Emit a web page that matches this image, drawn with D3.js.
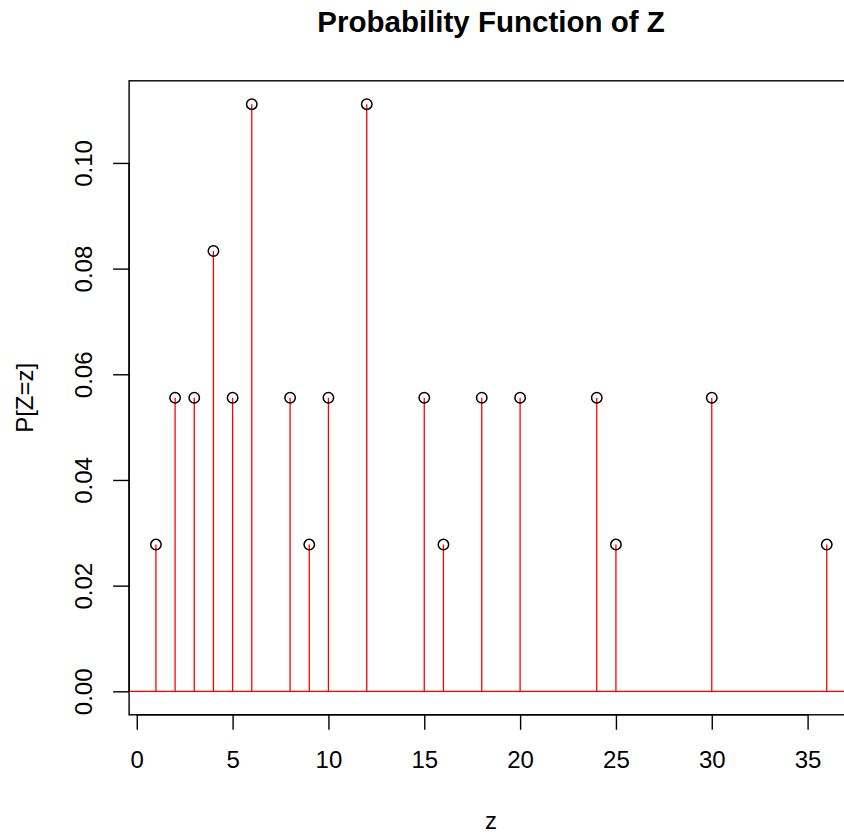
<!DOCTYPE html>
<html><head><meta charset="utf-8">
<script src="https://cdn.jsdelivr.net/npm/d3@7"></script>
<style>body{margin:0;background:#fff}svg{display:block;font-family:"Liberation Sans",Arial,sans-serif}</style>
</head><body><svg id="c" width="844" height="835"></svg>
<script>
const zValues = [1,2,3,4,5,6,8,9,10,12,15,16,18,20,24,25,30,36];
const counts = [1,2,2,3,2,4,2,1,2,4,2,1,2,2,2,1,2,1];
const probs = counts.map(c => c/36);
const xTicks = [0,5,10,15,20,25,30,35];
const yTicks = [0,0.02,0.04,0.06,0.08,0.10];
const title = "Probability Function of Z";
const xLabel = "z", yLabel = "P[Z=z]";

const svg = d3.select("#c");
const L = 129.1, R = 853.6, T = 80.8, B = 714.8;
const x = d3.scaleLinear().domain([-0.4, 37.4]).range([L, R]);
const y = d3.scaleLinear().domain([-0.1111*0.04, 0.1111*1.04]).range([B, T]);
const FONT = "Liberation Sans, Arial, sans-serif";

// stems
svg.append("g").selectAll("line").data(zValues).join("line")
  .attr("x1", d => x(d)).attr("x2", d => x(d))
  .attr("y1", y(0)).attr("y2", (d,i) => y(probs[i]))
  .attr("stroke", "#ff0000").attr("stroke-width", 1.3);
// zero line
svg.append("line").attr("x1", L).attr("x2", R).attr("y1", y(0)).attr("y2", y(0))
  .attr("stroke", "#ff0000").attr("stroke-width", 1.3);
// points
svg.append("g").selectAll("circle").data(zValues).join("circle")
  .attr("cx", d => x(d)).attr("cy", (d,i) => y(probs[i])).attr("r", 5.2)
  .attr("fill", "none").attr("stroke", "#000").attr("stroke-width", 1.5);
// box
svg.append("rect").attr("x", L).attr("y", T).attr("width", R - L).attr("height", B - T)
  .attr("fill", "none").attr("stroke", "#000").attr("stroke-width", 1.4);

// x axis
const xa = svg.append("g").attr("transform", `translate(0,${B})`)
  .call(d3.axisBottom(x).tickValues(xTicks).tickSize(15).tickFormat(d3.format("d")));
xa.select(".domain").attr("d", `M${x(0)},0H${x(35)}`).attr("stroke-width", 1.4);
xa.selectAll(".tick line").attr("stroke-width", 1.4);
xa.selectAll("text").attr("font-size", 24).attr("fill", "#000").attr("font-family", FONT)
  .attr("y", 53.5).attr("dy", 0);

// y axis
const ya = svg.append("g").attr("transform", `translate(${L},0)`)
  .call(d3.axisLeft(y).tickValues(yTicks).tickSize(16).tickFormat(d3.format(".2f")));
ya.select(".domain").attr("d", `M0,${y(0)}V${y(0.10)}`).attr("stroke-width", 1.4);
ya.selectAll(".tick line").attr("stroke-width", 1.4);
ya.selectAll("text").attr("font-size", 24).attr("fill", "#000")
  .attr("font-family", FONT)
  .attr("text-anchor", "middle").attr("x", 0).attr("y", 0).attr("dy", 0)
  .attr("transform", "translate(-37,0) rotate(-90)");

// titles
svg.append("text").attr("x", 491).attr("y", 31.5).attr("text-anchor", "middle")
  .attr("font-family", FONT).attr("font-size", 29.5).attr("font-weight", "bold").text(title);
svg.append("text").attr("x", 491).attr("y", 829.3).attr("text-anchor", "middle")
  .attr("font-family", FONT).attr("font-size", 24).text(xLabel);
svg.append("text").attr("transform", `translate(33,${(T+B)/2}) rotate(-90)`)
  .attr("text-anchor", "middle").attr("font-family", FONT).attr("font-size", 24).text(yLabel);
</script></body></html>
